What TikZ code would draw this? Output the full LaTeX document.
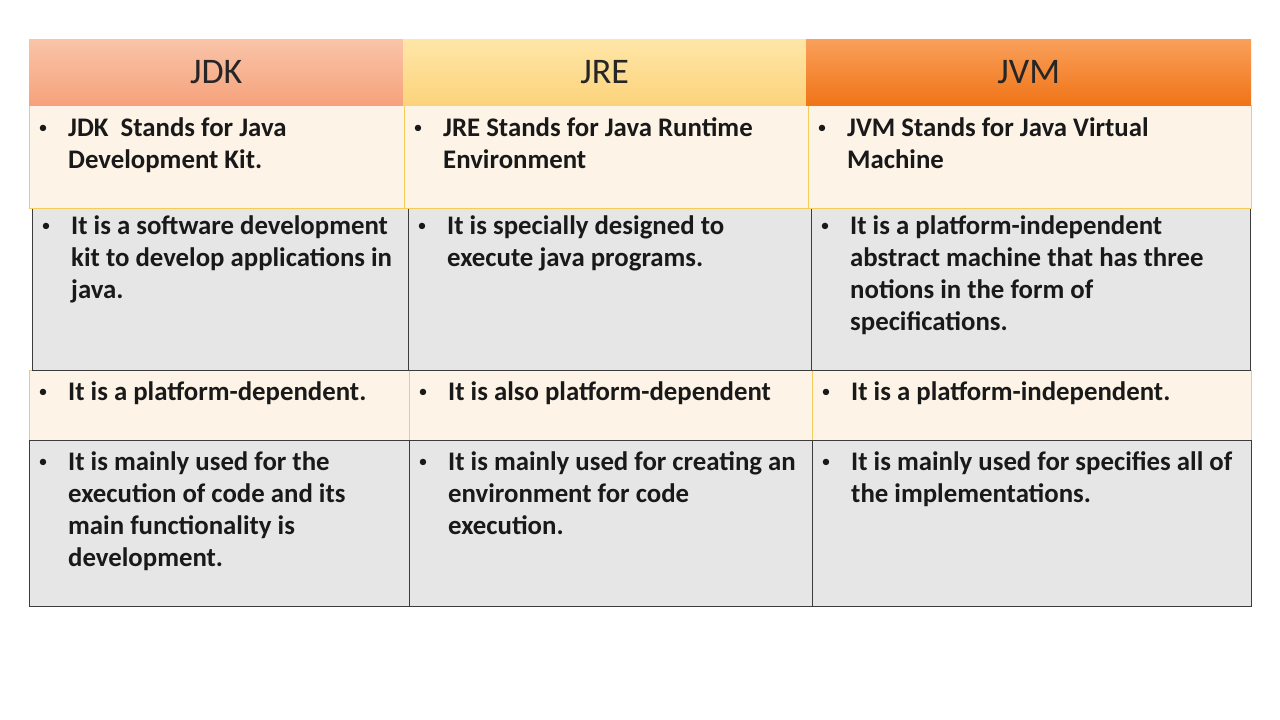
\documentclass[tikz,border=0pt]{standalone}
\usepackage{fontspec}
\setmainfont{Carlito}
\usepackage{xcolor}
\usepackage{tikz}
\usetikzlibrary{positioning}
\definecolor{creamFill}{HTML}{FDF3E7}
\definecolor{creamLine}{HTML}{F5CB5C}
\definecolor{grayFill}{HTML}{E6E6E6}
\definecolor{grayLine}{HTML}{3C3C3C}
\definecolor{jdkTop}{HTML}{F9C4A8}
\definecolor{jdkBot}{HTML}{F6A27C}
\definecolor{jreTop}{HTML}{FEE6A8}
\definecolor{jreBot}{HTML}{FCD37B}
\definecolor{jvmTop}{HTML}{F9A05A}
\definecolor{jvmBot}{HTML}{F07418}
\newcommand{\cellitem}[1]{\makebox[31pt][l]{\hspace{1.5pt}\raisebox{2.5pt}{\fontsize{18}{18}\selectfont\mdseries\textbullet}}\begin{tabular}[t]{@{}l@{}}#1\end{tabular}}
\tikzset{
    head/.style={rectangle, draw=none, anchor=north west, minimum height=66pt, inner sep=0pt, font=\fontsize{36}{40}\selectfont, text=black!85},
    creamcell/.style={rectangle, draw=creamLine, line width=1pt, fill=creamFill, anchor=north west, inner sep=0pt},
    graycell/.style={rectangle, draw=grayLine, line width=1.2pt, fill=grayFill, anchor=north west, inner sep=0pt},
    item/.style={anchor=base west, inner sep=0pt, align=left, font=\fontsize{26.8}{32}\selectfont\bfseries, text=black!90}
}
\begin{document}
\begin{tikzpicture}[x=1pt, y=-1pt]
        \useasboundingbox[fill=white] (0,0) rectangle (1280,720);

        % row 3 (platform)
        \node[creamcell, minimum width=380pt, minimum height=70pt] (pJDK) at (29,370) {};
        \node[creamcell, minimum width=403pt, minimum height=70pt] (pJRE) at (409,370) {};
        \node[creamcell, minimum width=439pt, minimum height=70pt] (pJVM) at (812,370) {};

        % row 2 (what it is)
        \node[graycell, minimum width=376pt, minimum height=162pt] (wJDK) at (32,208) {};
        \node[graycell, minimum width=403pt, minimum height=162pt] (wJRE) at (408,208) {};
        \node[graycell, minimum width=439pt, minimum height=162pt] (wJVM) at (811,208) {};

        % row 4 (usage)
        \node[graycell, minimum width=380pt, minimum height=166pt] (uJDK) at (29,440) {};
        \node[graycell, minimum width=403pt, minimum height=166pt] (uJRE) at (409,440) {};
        \node[graycell, minimum width=439pt, minimum height=166pt] (uJVM) at (812,440) {};

        % row 1 (stands for)
        \node[creamcell, minimum width=375pt, minimum height=103pt] (sJDK) at (29,105) {};
        \node[creamcell, minimum width=404pt, minimum height=103pt] (sJRE) at (404,105) {};
        \node[creamcell, minimum width=443pt, minimum height=103pt] (sJVM) at (808,105) {};

        % headers
        \node[head, minimum width=374pt, top color=jdkTop, bottom color=jdkBot] (hJDK) at (29,39) {JDK};
        \node[head, minimum width=403pt, top color=jreTop, bottom color=jreBot] (hJRE) at (403,39) {JRE};
        \node[head, minimum width=445pt, top color=jvmTop, bottom color=jvmBot] (hJVM) at (806,39) {JVM};

        % texts
        \node[item] (tsJDK) at ([shift={(8,31)}]sJDK.north west) {\cellitem{JDK\ \ Stands for Java\\Development Kit.}};
        \node[item] (tsJRE) at ([shift={(8,31)}]sJRE.north west) {\cellitem{JRE Stands for Java Runtime\\Environment}};
        \node[item] (tsJVM) at ([shift={(8,31)}]sJVM.north west) {\cellitem{JVM Stands for Java Virtual\\Machine}};

        \node[item] (twJDK) at ([shift={(8,26)}]wJDK.north west) {\cellitem{It is a software development\\kit to develop applications in\\java.}};
        \node[item] (twJRE) at ([shift={(8,26)}]wJRE.north west) {\cellitem{It is specially designed to\\execute java programs.}};
        \node[item] (twJVM) at ([shift={(8,26)}]wJVM.north west) {\cellitem{It is a platform-independent\\abstract machine that has three\\notions in the form of\\specifications.}};

        \node[item] (tpJDK) at ([shift={(8,30)}]pJDK.north west) {\cellitem{It is a platform-dependent.}};
        \node[item] (tpJRE) at ([shift={(8,30)}]pJRE.north west) {\cellitem{It is also platform-dependent}};
        \node[item] (tpJVM) at ([shift={(8,30)}]pJVM.north west) {\cellitem{It is a platform-independent.}};

        \node[item] (tuJDK) at ([shift={(8,30)}]uJDK.north west) {\cellitem{It is mainly used for the\\execution of code and its\\main functionality is\\development.}};
        \node[item] (tuJRE) at ([shift={(8,30)}]uJRE.north west) {\cellitem{It is mainly used for creating an\\environment for code\\execution.}};
        \node[item] (tuJVM) at ([shift={(8,30)}]uJVM.north west) {\cellitem{It is mainly used for specifies all of\\the implementations.}};

    \end{tikzpicture}
\end{document}
